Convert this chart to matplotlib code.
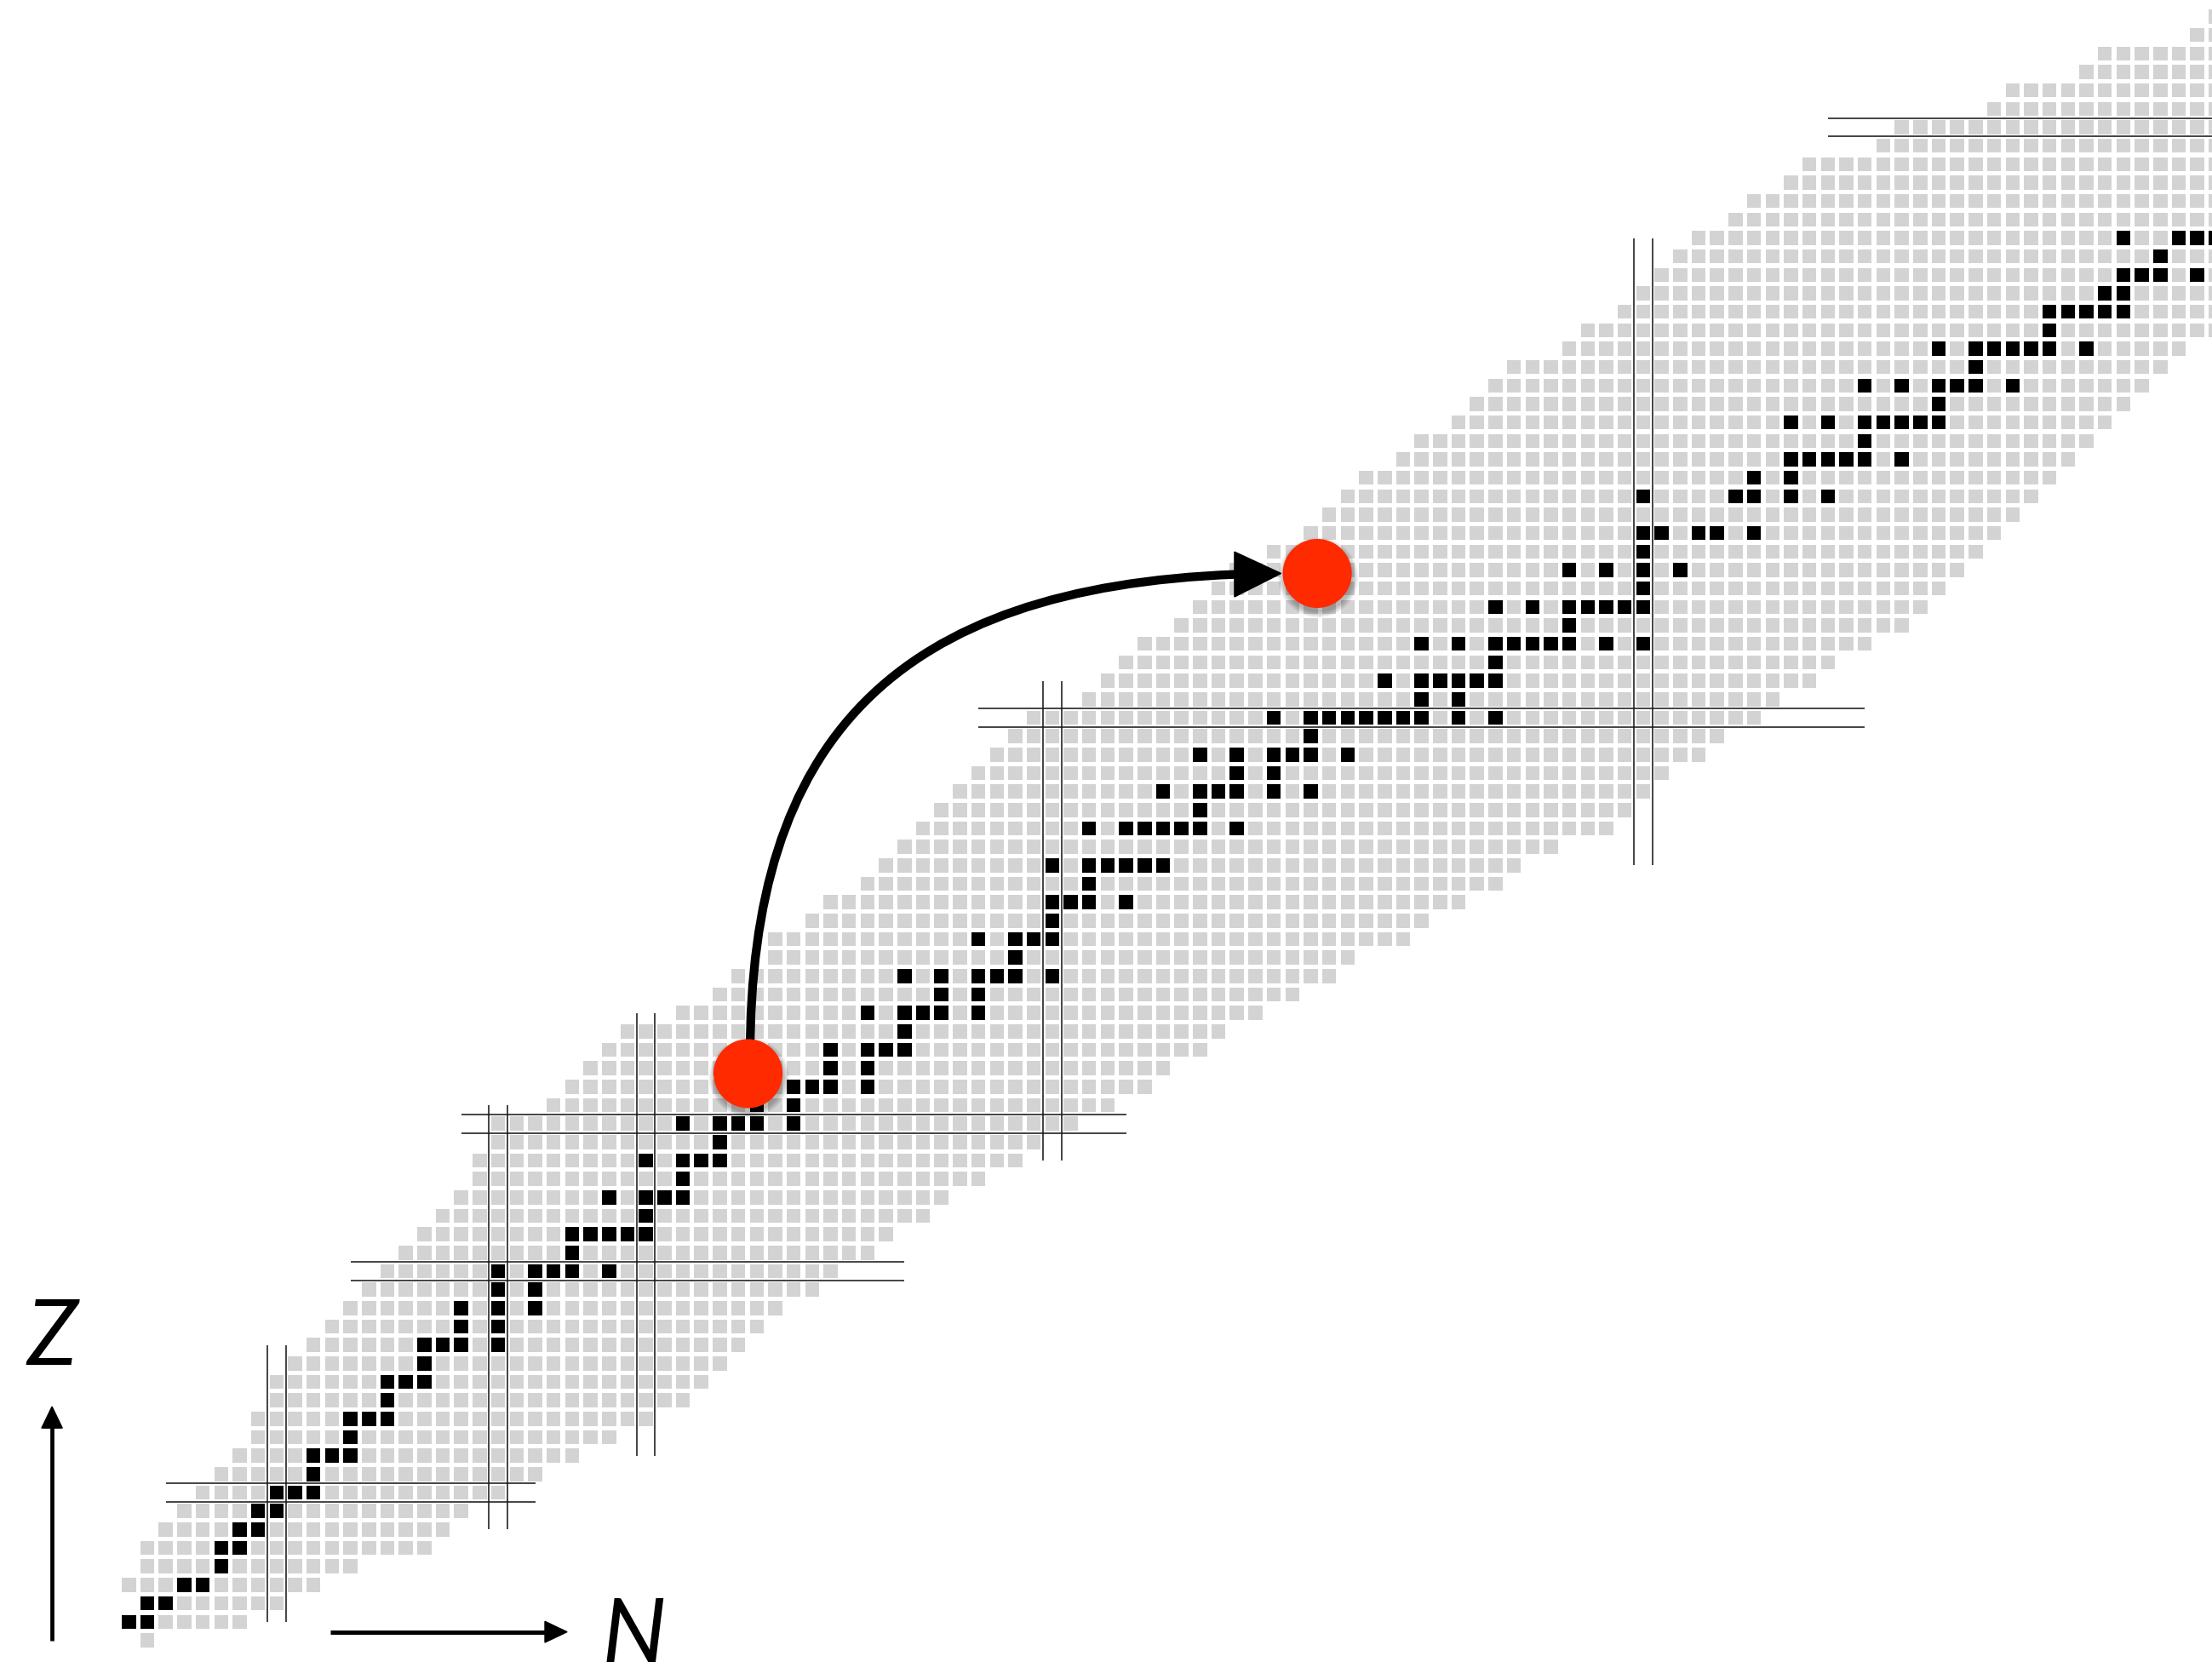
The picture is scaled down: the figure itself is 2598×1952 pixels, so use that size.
import numpy as np
import matplotlib
matplotlib.use("Agg")
import matplotlib.pyplot as plt
from matplotlib.patches import Rectangle, Circle, Polygon, PathPatch
from matplotlib.collections import PatchCollection
from matplotlib.path import Path

# ---- chart of nuclides: known range of neutron number N for each proton number Z
proton_z = list(range(0, 89))
n_lowest = [1, 0, 1, 0, 1, 1, 2, 3, 4, 5,
            6, 7, 7, 8, 8, 9, 10, 11, 12, 13,
            14, 15, 16, 17, 18, 19, 19, 20, 20, 23,
            24, 25, 26, 27, 30, 32, 33, 35, 35, 37,
            38, 40, 41, 42, 43, 44, 45, 46, 47, 48,
            49, 52, 53, 54, 55, 57, 58, 59, 60, 62,
            64, 65, 66, 67, 69, 70, 72, 73, 74, 75,
            78, 79, 81, 82, 83, 84, 85, 87, 88, 90,
            91, 95, 96, 101, 102, 106, 107, 112, 113]
n_highest = [1, 6, 8, 10, 12, 16, 17, 18, 20, 22,
             24, 26, 28, 30, 31, 32, 33, 34, 35, 37,
             38, 40, 41, 43, 44, 46, 48, 49, 51, 53,
             55, 56, 58, 59, 61, 63, 65, 66, 69, 70,
             72, 74, 75, 77, 80, 81, 82, 83, 85, 86,
             88, 89, 91, 92, 94, 96, 97, 98, 99, 100,
             101, 102, 103, 104, 105, 106, 107, 108, 109, 110,
             111, 120, 120, 120, 120, 120, 120, 120, 120, 120,
             120, 120, 120, 120, 120, 120, 120, 120, 120]

# stable nuclides: neutron numbers for each Z
stable_n = [
    [], [0, 1], [1, 2], [3, 4], [5], [5, 6], [6, 7], [7, 8], [8, 9, 10], [10],
    [10, 11, 12], [12], [12, 13, 14], [14], [14, 15, 16], [16], [16, 17, 18, 20],
    [18, 20], [18, 20, 22], [20, 22], [20, 22, 23, 24, 26], [24],
    [24, 25, 26, 27, 28], [28], [26, 28, 29, 30], [30], [28, 30, 31, 32], [32],
    [30, 32, 33, 34, 36], [34, 36], [34, 36, 37, 38, 40], [38, 40],
    [38, 40, 41, 42], [42], [40, 42, 43, 44, 46], [44, 46],
    [42, 44, 46, 47, 48, 50], [48], [46, 48, 49, 50], [50], [50, 51, 52, 54],
    [52], [50, 52, 53, 54, 55, 56], [], [52, 54, 55, 56, 57, 58, 60], [58],
    [56, 58, 59, 60, 62, 64], [60, 62], [58, 60, 62, 63, 64, 66], [64],
    [62, 64, 65, 66, 67, 68, 69, 70, 72, 74], [70, 72], [68, 70, 71, 72, 73, 74],
    [74], [70, 72, 74, 75, 76, 77, 78, 80, 82], [78], [74, 76, 78, 79, 80, 81, 82],
    [82], [78, 80, 82, 84], [82], [82, 83, 85, 86, 88], [], [82, 87, 88, 90, 92],
    [88, 90], [90, 91, 92, 93, 94, 96], [94], [90, 92, 94, 95, 96, 97, 98], [98],
    [94, 96, 98, 99, 100, 102], [100], [98, 100, 101, 102, 103, 104, 106], [104],
    [104, 105, 106, 107, 108], [107, 108], [108, 109, 110, 112], [110],
    [108, 111, 112, 113], [114, 116], [], [], [], [], [], [], [], [], [], [], []]

# magic numbers and the extent of their guide lines
magic_n = [8, 20, 28, 50, 82]
magic_n_z_extent = [(1, 16), (6, 29), (10, 34), (26, 52), (42, 76)]
magic_z = [8, 20, 28, 50, 82]
magic_z_n_extent = [(2, 22), (12, 42), (18, 54), (46, 94), (92, 130)]

# ---- figure
W, H, DPI = 2598, 1952, 100
fig = plt.figure(figsize=(W / DPI, H / DPI), dpi=DPI)
ax = fig.add_axes([0, 0, 1, 1])
ax.set_xlim(-6.976, 112.80)
ax.set_ylim(-1.181, 88.90)
ax.axis("off")

side = 0.76
gray_cells, black_cells = [], []
for z, lo, hi, st in zip(proton_z, n_lowest, n_highest, stable_n):
    for n in range(lo, hi + 1):
        rect = Rectangle((n - side / 2, z - side / 2), side, side)
        (black_cells if n in st else gray_cells).append(rect)
ax.add_collection(PatchCollection(gray_cells, facecolor="#d3d3d3",
                                  edgecolor="none", zorder=1))
ax.add_collection(PatchCollection(black_cells, facecolor="black",
                                  edgecolor="none", zorder=2))

line_kw = dict(color="#1a1a1a", lw=1.15, zorder=3, solid_capstyle="butt")
for n0, (z0, z1) in zip(magic_n, magic_n_z_extent):
    for off in (-0.5, 0.5):
        ax.plot([n0 + off, n0 + off], [z0, z1], **line_kw)
for z0, (n0, n1) in zip(magic_z, magic_z_n_extent):
    for off in (-0.5, 0.5):
        ax.plot([n0, n1], [z0 + off, z0 + off], **line_kw)

# ---- axis arrows and labels
ax.plot([-4.16, -4.16], [-0.03, 11.7], color="black", lw=3.4,
        solid_capstyle="butt", zorder=4)
ax.add_patch(Polygon([[-4.16, 12.66], [-4.72, 11.50], [-3.60, 11.50]],
                     closed=True, color="black", zorder=4))
ax.plot([10.9, 22.7], [0.45, 0.45], color="black", lw=3.6,
        solid_capstyle="butt", zorder=4)
ax.add_patch(Polygon([[23.73, 0.45], [22.53, 1.02], [22.53, -0.12]],
                     closed=True, color="black", zorder=4))

label_kw = dict(fontsize=77, family=["Lato", "DejaVu Sans"], style="italic",
                weight="normal", va="baseline", ha="left", zorder=5)
ax.text(-5.55, 14.91, "Z", **label_kw)
ax.text(25.6, -1.27, "N", **label_kw)

# ---- curved arrow between the two nuclei
start_dot = (33.53, 30.71)
end_dot = (64.35, 57.82)
verts = [(33.64, 31.66), (33.64, 48.75), (41.43, 57.06), (59.95, 57.77)]
codes = [Path.MOVETO, Path.CURVE4, Path.CURVE4, Path.CURVE4]
ax.add_patch(PathPatch(Path(verts, codes), facecolor="none",
                       edgecolor="black", lw=7.4, capstyle="butt", zorder=6))
ax.add_patch(Polygon([[62.39, 57.82], [59.87, 58.99], [59.87, 56.55]],
                     closed=True, color="black", zorder=6))

radius = 1.87
for cx, cy in (start_dot, end_dot):
    for k in range(7):
        ax.add_patch(Circle((cx + 0.05, cy - 0.22), radius + 0.05 * k,
                            facecolor="black", edgecolor="none",
                            alpha=0.045, zorder=7))
    ax.add_patch(Circle((cx, cy), radius, facecolor="#ff2a00",
                        edgecolor="none", zorder=8))

fig.savefig("out.png", dpi=DPI, facecolor="white")
